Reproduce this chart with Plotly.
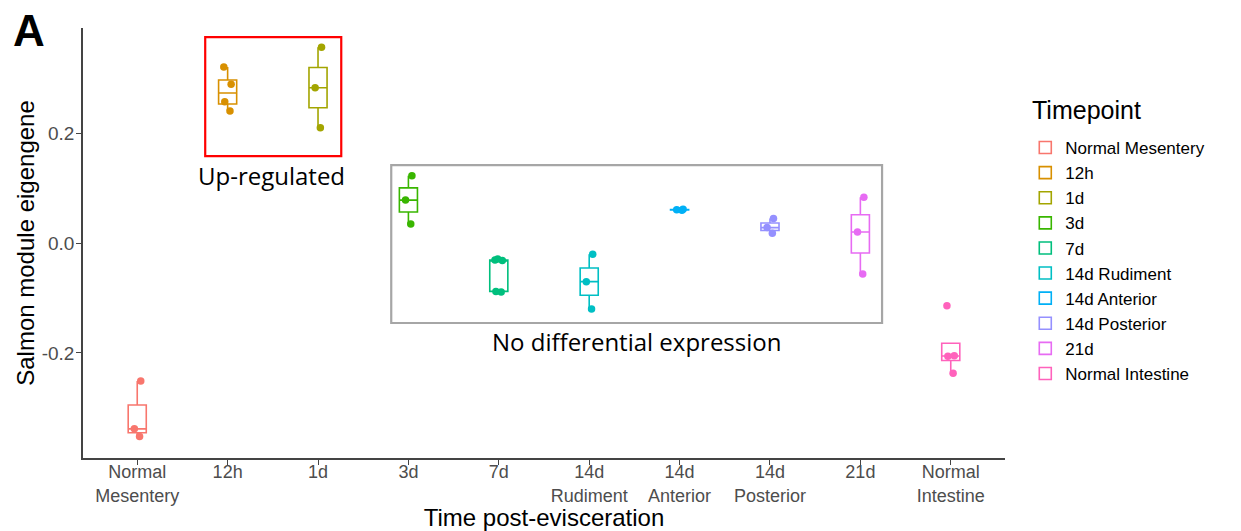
import numpy as np
import plotly.graph_objects as go

# ---------------- data ----------------
categories = ["Normal Mesentery", "12h", "1d", "3d", "7d", "14d Rudiment",
              "14d Anterior", "14d Posterior", "21d", "Normal Intestine"]
tick_labels = ["Normal<br>Mesentery", "12h", "1d", "3d", "7d", "14d<br>Rudiment",
               "14d<br>Anterior", "14d<br>Posterior", "21d", "Normal<br>Intestine"]
colors = ["#F8766D", "#D89000", "#A3A500", "#39B600", "#00BF7D",
          "#00BFC4", "#00B0F6", "#9590FF", "#E76BF3", "#FF62BC"]

normal_mesentery = [-0.352, -0.338, -0.251]
h12 = [0.240, 0.257, 0.2885, 0.320]
d1 = [0.2097, 0.2824, 0.3558]
d3 = [0.0345, 0.078, 0.1224]
d7 = [-0.089, -0.088, -0.032, -0.031, -0.029]
d14_rudiment = [-0.120, -0.0703, -0.0206]
d14_anterior = [0.0595, 0.0605, 0.0615]
d14_posterior = [0.0176, 0.028, 0.0445]
d21 = [-0.0564, 0.020, 0.083]
normal_intestine = [-0.237, -0.2058, -0.2052, -0.114]

series = [normal_mesentery, h12, d1, d3, d7, d14_rudiment,
          d14_anterior, d14_posterior, d21, normal_intestine]

AXIS_FONT = "Liberation Sans, Arial, sans-serif"
NOTE_FONT = "Open Sans, sans-serif"

fig = go.Figure()

for cat, vals, col in zip(categories, series, colors):
    v = np.array(vals, dtype=float)
    q1, med, q3 = np.percentile(v, [25, 50, 75])
    iqr = q3 - q1
    lo = v[v >= q1 - 1.5 * iqr].min()
    hi = v[v <= q3 + 1.5 * iqr].max()
    fig.add_trace(go.Box(
        x=[cat], q1=[q1], median=[med], q3=[q3],
        lowerfence=[lo], upperfence=[hi],
        name=cat, legendgroup=cat, width=0.2,
        line=dict(color=col, width=1.6), fillcolor="white",
        boxpoints=False, whiskerwidth=0, showlegend=True,
    ))

for cat, vals, col in zip(categories, series, colors):
    fig.add_trace(go.Box(
        x=[cat] * len(vals), y=vals, name=cat, legendgroup=cat,
        width=0.2, boxpoints="all", jitter=0.5, pointpos=0,
        line=dict(color="rgba(0,0,0,0)", width=0),
        fillcolor="rgba(0,0,0,0)",
        marker=dict(color=col, size=7.5, line=dict(width=0)),
        showlegend=False,
    ))

# highlight boxes and notes
fig.add_shape(type="rect", xref="x", yref="y", x0=0.752, x1=2.257, y0=0.158, y1=0.3745,
              line=dict(color="#FF0000", width=2.2), fillcolor="rgba(0,0,0,0)")
fig.add_shape(type="rect", xref="x", yref="y", x0=2.81, x1=8.24, y0=-0.1455, y1=0.1418,
              line=dict(color="#A6A6A6", width=2.2), fillcolor="rgba(0,0,0,0)")
fig.add_annotation(x=1.48, y=0.1236, xref="x", yref="y", text="Up-regulated",
                   showarrow=False, font=dict(family=NOTE_FONT, size=24, color="black"))
fig.add_annotation(x=5.52, y=-0.18, xref="x", yref="y", text="No differential expression",
                   showarrow=False, font=dict(family=NOTE_FONT, size=24, color="black"))
fig.add_annotation(x=-0.0785, y=0.995, xref="paper", yref="paper", text="<b>A</b>",
                   xanchor="left", yanchor="middle", showarrow=False,
                   font=dict(family=AXIS_FONT, size=44, color="black"))
# legend heading
fig.add_annotation(x=1.027, y=(458 - 110) / 430, xref="paper", yref="paper", text="Timepoint",
                   xanchor="left", yanchor="middle", showarrow=False,
                   font=dict(family=AXIS_FONT, size=25, color="black"))

fig.update_layout(
    width=1241, height=531,
    margin=dict(l=83, r=236, t=28, b=73, autoexpand=False),
    plot_bgcolor="white", paper_bgcolor="white",
    boxmode="overlay",
    font=dict(family=AXIS_FONT, color="black"),
    legend=dict(
        font=dict(size=17, color="black"),
        x=1.022, y=(458 - 130) / 430, xanchor="left", yanchor="top",
        tracegroupgap=0, itemclick=False,
    ),
    xaxis=dict(
        type="category", categoryorder="array", categoryarray=categories,
        tickvals=categories, ticktext=tick_labels,
        range=[-0.6, len(categories) - 0.4],
        showline=True, linecolor="#444444", linewidth=1.6,
        ticks="outside", ticklen=5, tickcolor="#444444", tickwidth=1.2,
        tickfont=dict(size=18, color="#4D4D4D"), ticklabelstandoff=-8,
        showgrid=False, zeroline=False,
        title=dict(text="Time post-evisceration", font=dict(size=24, color="black"), standoff=0),
    ),
    yaxis=dict(
        range=[-0.391, 0.391],
        tickvals=[-0.2, 0.0, 0.2], ticktext=["-0.2", "0.0", "0.2"],
        showline=True, linecolor="#444444", linewidth=1.6,
        ticks="outside", ticklen=5, tickcolor="#444444", tickwidth=1.2,
        tickfont=dict(size=19, color="#4D4D4D"), ticklabelstandoff=-2,
        showgrid=False, zeroline=False,
        title=dict(text="Salmon module eigengene", font=dict(size=24, color="black"), standoff=0),
    ),
)

fig.write_html("out.html")
